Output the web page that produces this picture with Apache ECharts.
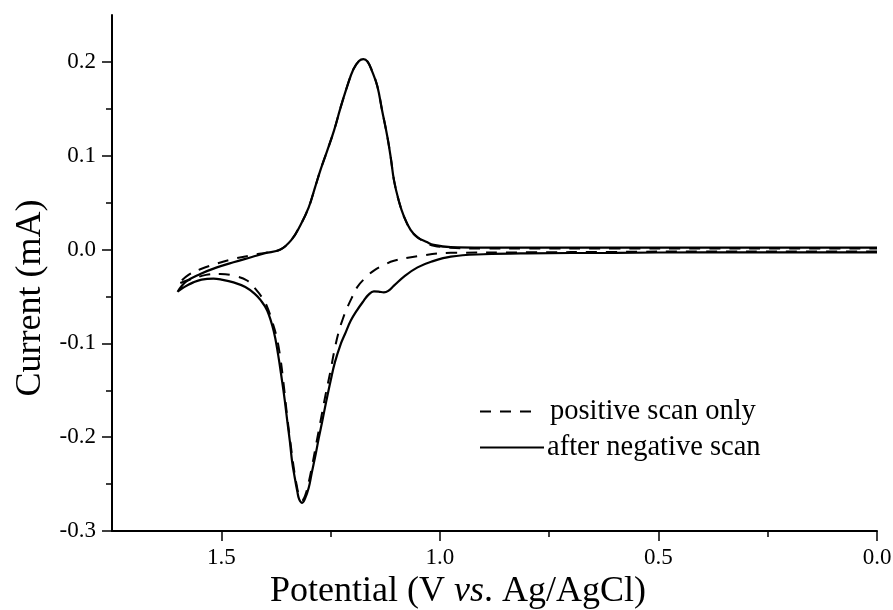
<!DOCTYPE html>
<html><head><meta charset="utf-8">
<script src="https://cdn.jsdelivr.net/npm/echarts@6/dist/echarts.min.js"></script>
<style>html,body{margin:0;padding:0;background:#fff}#c{width:893px;height:610px}</style>
</head><body><div id="c"></div>
<script>
const seriesNames = ['positive scan only', 'after negative scan'];
const xMajorTicks = [0, 0.5, 1.0, 1.5];
const xMinorTicks = [0.25, 0.75, 1.25];
const yMajorTicks = [-0.3, -0.2, -0.1, 0, 0.1, 0.2];
const yMinorTicks = [-0.25, -0.15, -0.05, 0.05, 0.15];

// positive scan only (dashed)
const positivePotential = [
  0.00, 0.20, 0.40, 0.60, 0.80, 0.975, 1.050, 1.105, 1.130, 1.151, 1.170, 1.189, 1.200, 1.212, 1.222, 1.231,
  1.241, 1.250, 1.262, 1.273, 1.282, 1.292, 1.300, 1.308, 1.315, 1.322, 1.328, 1.335, 1.342, 1.350, 1.357,
  1.365, 1.374, 1.384, 1.395, 1.407, 1.420, 1.441, 1.470, 1.502, 1.535, 1.564, 1.585, 1.600,
  1.575, 1.548, 1.510, 1.472, 1.430, 1.395, 1.365, 1.340, 1.319, 1.300, 1.285, 1.273, 1.258, 1.242, 1.228,
  1.212, 1.198, 1.185, 1.175, 1.165, 1.155, 1.143, 1.132, 1.120, 1.112, 1.105, 1.094, 1.082, 1.067, 1.051,
  1.030, 1.014, 0.975, 0.900, 0.800, 0.600, 0.400, 0.200, 0.000
];
const positiveCurrent = [
  -0.002, -0.002, -0.002, -0.0025, -0.003, -0.0035, -0.007, -0.012, -0.017, -0.0225, -0.030, -0.040, -0.050, -0.062, -0.074, -0.087,
  -0.107, -0.129, -0.156, -0.183, -0.205, -0.230, -0.248, -0.262, -0.267, -0.262, -0.250, -0.230, -0.205, -0.175, -0.145,
  -0.115, -0.092, -0.076, -0.061, -0.051, -0.043, -0.033, -0.028, -0.026, -0.027, -0.031, -0.034, -0.037,
  -0.027, -0.021, -0.015, -0.010, -0.006, -0.003, 0.000, 0.010, 0.026, 0.045, 0.067, 0.085, 0.105, 0.127, 0.150,
  0.174, 0.192, 0.201, 0.203, 0.200, 0.190, 0.174, 0.148, 0.120, 0.097, 0.074, 0.052, 0.035, 0.021, 0.013,
  0.007, 0.004, 0.002, 0.001, 0.001, 0.001, 0.001, 0.001, 0.001
];

// after negative scan (solid)
const negativePotential = [
  0.00, 0.20, 0.40, 0.60, 0.80, 0.90, 0.975, 1.020, 1.051, 1.080, 1.105, 1.118, 1.128, 1.140, 1.151, 1.163,
  1.174, 1.190, 1.204, 1.217, 1.227, 1.240, 1.250, 1.260, 1.269, 1.277, 1.284, 1.293, 1.300, 1.308, 1.315,
  1.322, 1.326, 1.332, 1.338, 1.343, 1.349, 1.355, 1.361, 1.370, 1.380, 1.395, 1.410, 1.424, 1.445, 1.472,
  1.500, 1.518, 1.545, 1.564, 1.585, 1.600,
  1.580, 1.548, 1.510, 1.472, 1.430, 1.400, 1.365, 1.340, 1.319, 1.300, 1.285, 1.273, 1.258, 1.242, 1.228,
  1.212, 1.198, 1.185, 1.175, 1.165, 1.155, 1.143, 1.132, 1.120, 1.112, 1.105, 1.094, 1.082, 1.067, 1.051,
  1.030, 1.014, 0.975, 0.900, 0.800, 0.600, 0.400, 0.200, 0.000
];
const negativeCurrent = [
  -0.003, -0.003, -0.003, -0.0035, -0.004, -0.005, -0.0075, -0.013, -0.019, -0.028, -0.0385, -0.044, -0.0456, -0.0448, -0.0446, -0.048,
  -0.0545, -0.065, -0.076, -0.090, -0.101, -0.120, -0.140, -0.162, -0.183, -0.201, -0.218, -0.238, -0.254, -0.265, -0.270,
  -0.266, -0.258, -0.243, -0.226, -0.205, -0.183, -0.160, -0.140, -0.112, -0.087, -0.065, -0.054, -0.047, -0.040, -0.035,
  -0.032, -0.031, -0.032, -0.035, -0.040, -0.045,
  -0.034, -0.026, -0.019, -0.0135, -0.008, -0.004, 0.000, 0.010, 0.026, 0.045, 0.067, 0.085, 0.105, 0.127, 0.150,
  0.174, 0.192, 0.201, 0.203, 0.200, 0.190, 0.174, 0.148, 0.120, 0.097, 0.074, 0.052, 0.035, 0.021, 0.013,
  0.008, 0.005, 0.0025, 0.002, 0.002, 0.002, 0.002, 0.002, 0.002
];

const zip = (xs, ys) => xs.map((x, i) => [x, ys[i]]);
const FONT = '"Liberation Serif", "Times New Roman", serif';
const fmt = v => Number(v).toFixed(1);

const chart = echarts.init(document.getElementById('c'), null, {renderer: 'canvas'});
chart.setOption({
  backgroundColor: '#fff',
  animation: false,
  grid: {left: 112, right: 16, top: 15, bottom: 79, containLabel: false, outerBoundsMode: 'none'},
  legend: [
    {
      data: [seriesNames[0]], left: 474, top: 392, itemWidth: 53, itemHeight: 3,
      itemStyle: {opacity: 0},
      textStyle: {fontFamily: FONT, fontSize: 28.5, color: '#000', padding: [0, 0, 0, 12]}
    },
    {
      data: [seriesNames[1]], left: 474, top: 428, itemWidth: 64, itemHeight: 3,
      itemStyle: {opacity: 0},
      textStyle: {fontFamily: FONT, fontSize: 28.5, color: '#000', padding: [0, 0, 0, -2]}
    }
  ],
  xAxis: [
    {
      type: 'value', min: 0, max: 1.75, inverse: true, position: 'bottom',
      splitLine: {show: false},
      axisLine: {onZero: false, lineStyle: {color: '#000', width: 2}},
      axisTick: {customValues: xMajorTicks, length: 10, lineStyle: {color: '#000', width: 1.5}},
      axisLabel: {customValues: xMajorTicks, formatter: fmt, margin: 15, color: '#000', fontFamily: FONT, fontSize: 23},
      name: '{a|Potential (V }{b|vs}{a|. Ag/AgCl)}',
      nameLocation: 'middle', nameGap: 41,
      nameTextStyle: {
        padding: [0, 73, 0, 0],
        rich: {
          a: {fontFamily: FONT, fontSize: 36, color: '#000'},
          b: {fontFamily: FONT, fontSize: 36, color: '#000', fontStyle: 'italic'}
        }
      }
    },
    {
      type: 'value', min: 0, max: 1.75, inverse: true, position: 'bottom',
      splitLine: {show: false},
      axisLine: {show: false, onZero: false},
      axisTick: {customValues: xMinorTicks, length: 6, lineStyle: {color: '#000', width: 1.5}},
      axisLabel: {show: false}
    }
  ],
  yAxis: [
    {
      type: 'value', min: -0.3, max: 0.25, position: 'left',
      splitLine: {show: false},
      axisLine: {onZero: false, lineStyle: {color: '#000', width: 2}},
      axisTick: {customValues: yMajorTicks, length: 10, lineStyle: {color: '#000', width: 1.5}},
      axisLabel: {customValues: yMajorTicks, formatter: fmt, margin: 16, color: '#000', fontFamily: FONT, fontSize: 23},
      name: 'Current (mA)',
      nameLocation: 'middle', nameGap: 56,
      nameTextStyle: {fontFamily: FONT, fontSize: 36, color: '#000', padding: [0, 50, 0, 0]}
    },
    {
      type: 'value', min: -0.3, max: 0.25, position: 'left',
      splitLine: {show: false},
      axisLine: {show: false, onZero: false},
      axisTick: {customValues: yMinorTicks, length: 6, lineStyle: {color: '#000', width: 1.5}},
      axisLabel: {show: false}
    }
  ],
  series: [
    {
      name: seriesNames[0], type: 'line', xAxisIndex: 0, yAxisIndex: 0,
      data: zip(positivePotential, positiveCurrent),
      symbol: 'none', smooth: 0.4,
      lineStyle: {color: '#000', width: 2, type: [11, 9]},
      itemStyle: {color: '#000'}
    },
    {
      name: seriesNames[1], type: 'line', xAxisIndex: 0, yAxisIndex: 0,
      data: zip(negativePotential, negativeCurrent),
      symbol: 'none', smooth: 0.4,
      lineStyle: {color: '#000', width: 2.2, type: 'solid'},
      itemStyle: {color: '#000'}
    }
  ]
});
</script></body></html>
